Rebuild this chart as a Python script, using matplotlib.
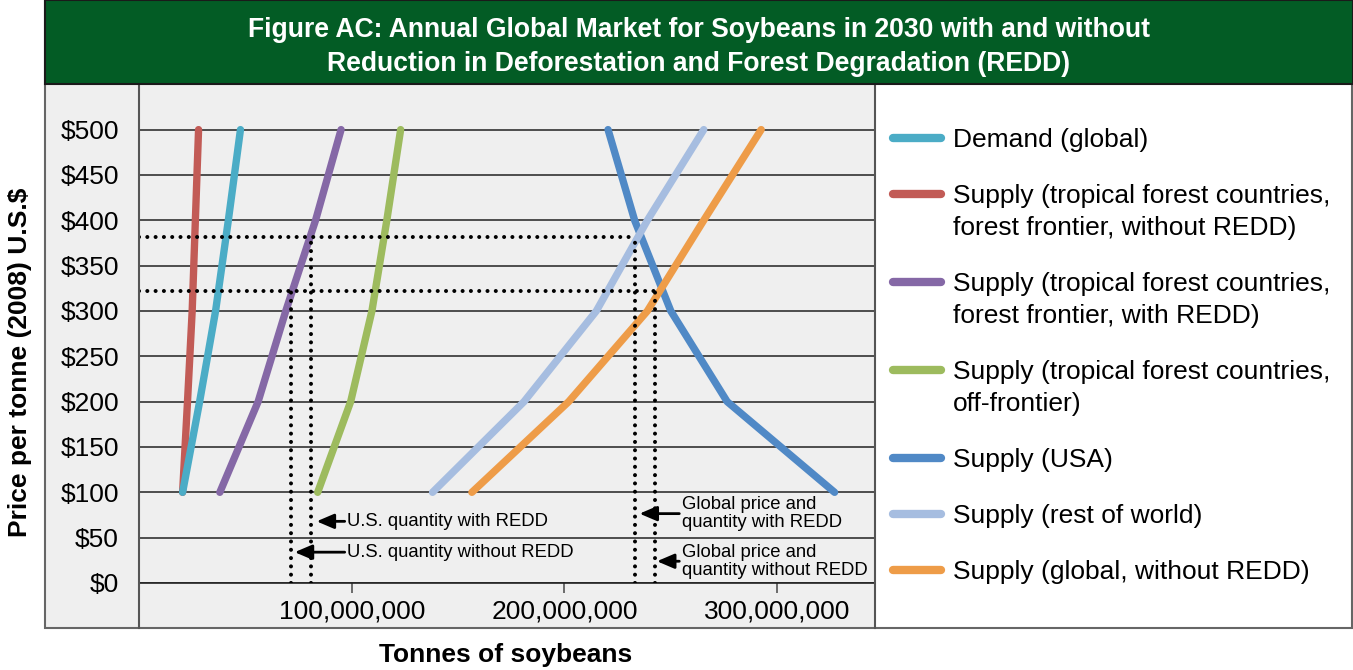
import matplotlib
matplotlib.use('Agg')
import matplotlib.pyplot as plt
from matplotlib.patches import Rectangle
from matplotlib.lines import Line2D

plt.rcParams['font.family'] = ['Liberation Sans', 'DejaVu Sans']

# price levels ($ per tonne) and quantities (million tonnes)
price = [100, 200, 300, 400, 500]
demand_global = [20.5, 28.5, 36, 42, 47.7]
supply_frontier_no_redd = [20.5, 22.8, 25, 26.5, 28]
supply_frontier_redd = [38, 56, 69, 83, 95]
supply_off_frontier = [84, 99.5, 109.5, 116.5, 123]
supply_usa = [327, 276.5, 250, 233, 220.5]
supply_row = [138, 181, 215, 239, 265.5]
supply_global_no_redd = [156.5, 202, 239, 265.5, 292.5]

# equilibrium markers
price_with_redd = 382
price_without_redd = 322
us_q_with_redd = 81.0
us_q_without_redd = 71.5
global_q_with_redd = 233.0
global_q_without_redd = 242.5

series = [
    ('Demand (global)', demand_global, '#4BACC6'),
    ('Supply (tropical forest countries,\nforest frontier, without REDD)', supply_frontier_no_redd, '#C25B56'),
    ('Supply (tropical forest countries,\nforest frontier, with REDD)', supply_frontier_redd, '#8568A6'),
    ('Supply (tropical forest countries,\noff-frontier)', supply_off_frontier, '#9DBB5E'),
    ('Supply (USA)', supply_usa, '#5089C6'),
    ('Supply (rest of world)', supply_row, '#A6BDE0'),
    ('Supply (global, without REDD)', supply_global_no_redd, '#EE9C48'),
]

title = ('Figure AC: Annual Global Market for Soybeans in 2030 with and without\n'
         'Reduction in Deforestation and Forest Degradation (REDD)')

W, H = 1353, 670


def fx(px):
    return px / W


def fy(py):
    return 1 - py / H


fig = plt.figure(figsize=(W / 100, H / 100), dpi=100)
fig.patch.set_facecolor('white')

# gray panel behind plot and tick labels
fig.add_artist(Rectangle((fx(45), fy(628)), (875 - 45) / W, (628 - 84) / H,
                         transform=fig.transFigure, facecolor='#efefef', edgecolor='none', zorder=0))
# outer frame
fig.add_artist(Rectangle((fx(45), fy(628)), (1352 - 45) / W, 628 / H,
                         transform=fig.transFigure, fill=False, edgecolor='#666666', lw=1.5, zorder=5))
# green header
fig.add_artist(Rectangle((fx(45), fy(84)), (1353 - 45) / W, 84 / H,
                         transform=fig.transFigure, facecolor='#035C25', edgecolor='#1a1a1a', lw=1.5, zorder=6))
fig.text(fx(699), fy(47), title, ha='center', va='center', color='white',
         fontsize=19.1, fontweight='bold', linespacing=1.42, zorder=7)

# vertical separators
for px in (139, 875):
    fig.add_artist(Line2D([fx(px), fx(px)], [fy(84), fy(628)], transform=fig.transFigure,
                          color='#555555', lw=1.5, zorder=5))

ax = fig.add_axes([fx(139), fy(583), (875 - 139) / W, (583 - 84) / H])
ax.set_facecolor('#efefef')
ax.set_xlim(0, 346e6)
ax.set_ylim(0, 550.3)
for s in ['top', 'right', 'left']:
    ax.spines[s].set_visible(False)
ax.spines['bottom'].set_color('#222222')
ax.spines['bottom'].set_linewidth(1.2)

ax.set_yticks(range(0, 501, 50))
ax.set_yticklabels(['$%d' % v for v in range(0, 501, 50)])
ax.set_xticks([100e6, 200e6, 300e6])
ax.set_xticklabels(['100,000,000', '200,000,000', '300,000,000'])
ax.tick_params(axis='y', length=0, pad=14.4, labelsize=19)
ax.tick_params(axis='x', direction='out', length=7, width=1.2, color='#555555', pad=5, labelsize=19)
ax.yaxis.grid(True, color='#222222', lw=1.1)
ax.set_axisbelow(True)

for i, (label, q, color) in enumerate(series):
    z = 4 if i == 0 else 3
    ax.plot([v * 1e6 for v in q], price, color=color, lw=5.3,
            solid_capstyle='round', solid_joinstyle='round', zorder=z)

# dotted guide lines
dot = dict(color='black', lw=2.9, linestyle=(0, (0.01, 2.05)), dash_capstyle='round', zorder=6)
ax.plot([0, global_q_with_redd * 1e6], [price_with_redd] * 2, **dot)
ax.plot([0, global_q_without_redd * 1e6], [price_without_redd] * 2, **dot)
ax.plot([us_q_with_redd * 1e6] * 2, [0, price_with_redd], **dot)
ax.plot([us_q_without_redd * 1e6] * 2, [0, price_without_redd], **dot)
ax.plot([global_q_with_redd * 1e6] * 2, [0, price_with_redd], **dot)
ax.plot([global_q_without_redd * 1e6] * 2, [0, price_without_redd], **dot)

# annotations
arrow = dict(arrowstyle='-|>,head_length=0.75,head_width=0.32', color='black', lw=2,
             shrinkA=0, shrinkB=0, mutation_scale=14)
notes = [
    ('U.S. quantity with REDD', 83.5, 96.7, 68),
    ('U.S. quantity without REDD', 73.2, 96.7, 34),
    ('Global price and\nquantity with REDD', 235.3, 254.0, 76.5),
    ('Global price and\nquantity without REDD', 243.5, 254.0, 24),
]
for text, tip, tail, y in notes:
    ax.annotate('', xy=(tip * 1e6, y), xytext=(tail * 1e6, y), arrowprops=arrow, zorder=7)
    ax.text((tail + 1.3) * 1e6, y, text, ha='left', va='center', fontsize=13.3,
            linespacing=1.05, zorder=7)

fig.text(fx(20), fy(362), 'Price per tonne (2008) U.S.$', rotation=90, ha='center', va='center',
         fontsize=19, fontweight='bold')
fig.text(fx(506), fy(655), 'Tonnes of soybeans', ha='center', va='center',
         fontsize=19, fontweight='bold')

# legend drawn in the white panel
y = 138
for label, q, color in series:
    fig.add_artist(Line2D([fx(893), fx(941)], [fy(y), fy(y)], transform=fig.transFigure,
                          color=color, lw=6, solid_capstyle='round'))
    lines = label.split('\n')
    for k, line in enumerate(lines):
        fig.text(fx(953), fy(y + 2 + 32 * k), line, ha='left', va='center', fontsize=19)
    y += 56 + 32 * (len(lines) - 1)

fig.savefig('out.png', dpi=100)
